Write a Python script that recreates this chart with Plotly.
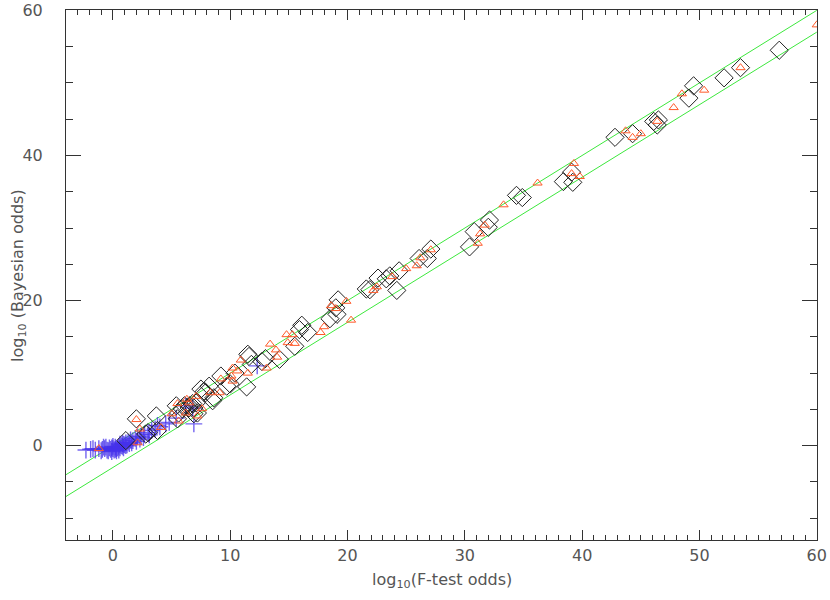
import plotly.graph_objects as go

# reference lines: y = x and y = x - 3
line_x = [-4, 60]
line_upper = [-4, 60]
line_lower = [-7, 57]

# black diamonds
diam_x = [1.1, 2.0, 2.8, 3.0, 3.7, 3.8, 5.4, 5.5, 5.6, 5.9, 6.1, 6.5, 6.5, 6.8, 6.9,
          6.9, 7.1, 7.2, 7.5, 7.8, 7.9, 8.2, 8.5, 8.6, 9.2, 9.7, 10.0, 10.4, 11.4, 11.5,
          11.6, 11.8, 12.7, 13.0, 14.2, 15.5, 15.9, 16.1, 16.6, 18.5, 19.0, 19.1, 19.2,
          21.6, 21.9, 22.6, 23.3, 23.6, 24.2, 24.4, 26.1, 26.8, 27.1, 30.4, 30.8, 32.0,
          32.1, 34.4, 34.9, 38.4, 39.1, 39.2, 42.8, 44.3, 46.1, 46.4, 46.5, 49.1, 49.5,
          52.1, 53.5, 56.8]
diam_y = [0.7, 3.7, 1.6, 1.8, 4.1, 2.1, 5.5, 3.7, 4.5, 5.1, 5.5, 5.5, 5.2, 5.8, 5.2,
          4.4, 5.9, 4.5, 7.8, 7.5, 7.3, 8.2, 6.2, 6.6, 9.6, 8.2, 8.5, 10.0, 8.1, 12.6,
          12.3, 11.2, 11.6, 12.0, 11.9, 13.7, 16.0, 16.6, 15.6, 17.5, 19.0, 18.1, 20.1,
          21.6, 21.5, 23.1, 23.0, 23.4, 21.4, 24.1, 25.8, 25.8, 27.1, 27.4, 29.5, 30.1,
          31.1, 34.5, 34.2, 36.4, 37.7, 36.3, 42.5, 43.0, 44.7, 44.2, 44.9, 47.9, 49.6,
          50.7, 52.1, 54.5]

# red triangles
tri_x = [-1.2, 2.0, 2.1, 2.3, 4.1, 5.0, 5.5, 5.6, 6.2, 6.3, 6.5, 7.1, 7.2, 7.6, 8.3,
         9.1, 9.2, 10.1, 10.2, 10.2, 10.6, 10.9, 11.5, 13.1, 13.4, 13.9, 14.0, 14.8,
         14.9, 15.3, 15.5, 17.7, 18.0, 18.6, 19.0, 19.9, 20.3, 22.2, 22.5, 23.8, 25.0,
         25.9, 26.2, 27.1, 31.1, 31.3, 31.7, 33.3, 36.2, 39.1, 39.3, 39.8, 43.7, 44.3,
         45.0, 46.4, 47.8, 48.5, 50.4, 53.5, 60.0]
tri_y = [-0.4, 3.6, 0.4, 2.3, 2.5, 4.4, 5.8, 3.4, 4.5, 6.4, 5.9, 6.8, 4.1, 5.1, 7.3,
         7.3, 9.2, 9.6, 8.9, 10.7, 10.3, 11.8, 10.0, 10.7, 14.0, 13.2, 12.2, 15.3,
         14.2, 15.3, 14.1, 15.6, 16.4, 19.3, 18.9, 19.9, 17.3, 21.4, 21.9, 23.3, 24.4,
         24.8, 25.9, 27.0, 27.9, 29.2, 30.4, 33.2, 36.2, 37.5, 38.9, 37.1, 43.4, 42.5,
         43.0, 44.7, 46.6, 48.5, 49.0, 52.1, 58.0]

# blue crosses
plus_x = [-2.3, -1.9, -1.5, -1.2, -0.9, -0.7, -0.5, -0.3, -0.2, -0.1, 0.0, 0.1, 0.2,
          0.3, 0.4, 0.5, 0.6, 0.7, 0.8, 0.9, 1.0, 1.1, 1.3, 1.5, 1.7, 1.9, 2.1, 2.4,
          2.7, 3.0, 3.3, 3.6, 4.0, 4.5, 4.8, 5.4, 6.2, 6.8, 6.9, 12.3,
          -0.8, -0.4, 0.0, 0.3, 0.6, 0.9, 1.2, 1.4, 1.6, 2.0, 2.3,
          -1.7, -1.0, -0.6, -0.1, 0.2, 0.5, 0.8, 1.1, 2.6, 3.1, 3.8]
plus_y = [-0.6, -0.5, -0.6, -0.4, -0.5, -0.4, -0.6, -0.3, -0.5, -0.3, -0.4, -0.6, -0.2,
          -0.4, -0.3, -0.1, -0.3, 0.0, -0.1, 0.2, 0.1, 0.4, 0.5, 0.8, 0.7, 1.0, 1.2, 1.3,
          1.6, 1.8, 2.1, 2.3, 2.6, 3.0, 3.2, 3.8, 5.5, 5.2, 3.0, 11.0,
          -0.2, -0.7, -0.1, -0.7, 0.2, -0.3, 0.1, 0.3, 0.4, 0.6, 0.9,
          -0.4, -0.7, -0.2, -0.8, -0.5, -0.6, 0.3, 0.0, 1.1, 1.5, 2.8]

fig = go.Figure()
for ly in [line_upper, line_lower]:
    fig.add_trace(go.Scatter(x=line_x, y=ly, mode='lines',
                             line=dict(color='#3de83d', width=1)))
fig.add_trace(go.Scatter(x=plus_x, y=plus_y, mode='markers',
                         marker=dict(symbol='cross-thin', size=12,
                                     line=dict(color='rgba(70,50,235,0.75)', width=1.4))))
fig.add_trace(go.Scatter(x=diam_x, y=diam_y, mode='markers',
                         marker=dict(symbol='diamond-open', size=14, color='#222',
                                     line=dict(width=1))))
fig.add_trace(go.Scatter(x=tri_x, y=tri_y, mode='markers',
                         marker=dict(symbol='triangle-up-open', size=8, color='#ff5a2a',
                                     line=dict(width=1))))

font = dict(family='DejaVu Sans', size=16, color='#555')
axis_style = dict(showgrid=False, zeroline=False, showline=True, linecolor='#333',
                  linewidth=1, mirror='allticks', ticks='inside', tickcolor='#333',
                  automargin=False, tickfont=font)

fig.update_xaxes(range=[-4, 60.02], dtick=10, ticklen=10, ticklabelstandoff=1,
                 minor=dict(dtick=1, ticklen=5, ticks='inside', tickcolor='#333'),
                 **axis_style)
fig.update_yaxes(range=[-13, 60.05], dtick=20, ticklen=15, ticklabelstandoff=19,
                 minor=dict(dtick=5, ticklen=7, ticks='inside', tickcolor='#333'),
                 **axis_style)

# axis titles as annotations so they sit where the reference has them
fig.add_annotation(text='log<sub>10</sub>(F-test odds)', xref='paper', yref='paper',
                   x=0.5, y=-0.077, xanchor='center', yanchor='middle',
                   showarrow=False, font=font)
fig.add_annotation(text='log<sub>10</sub> (Bayesian odds)', xref='paper', yref='paper',
                   x=-0.064, y=0.5, xanchor='center', yanchor='middle',
                   textangle=-90, showarrow=False, font=font)

fig.update_layout(width=830, height=600, showlegend=False,
                  plot_bgcolor='white', paper_bgcolor='white',
                  margin=dict(l=66, r=13, t=10, b=60))

# drop the default page margin so the figure sits at the window corner
fig.write_html("out.html", config={'displayModeBar': False},
               post_script="document.body.style.margin='0';")
